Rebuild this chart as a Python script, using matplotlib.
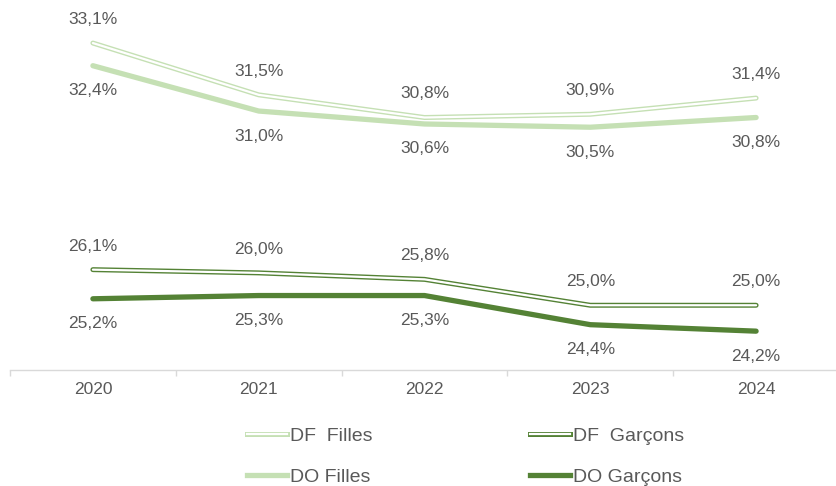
import matplotlib
matplotlib.use("Agg")
import matplotlib.pyplot as plt
from matplotlib.lines import Line2D
from matplotlib.legend_handler import HandlerTuple

plt.rcParams['font.family'] = ['Liberation Sans', 'DejaVu Sans']

# Data
years = ['2020', '2021', '2022', '2023', '2024']
df_filles = [33.1, 31.5, 30.8, 30.9, 31.4]
do_filles = [32.4, 31.0, 30.6, 30.5, 30.8]
df_garcons = [26.1, 26.0, 25.8, 25.0, 25.0]
do_garcons = [25.2, 25.3, 25.3, 24.4, 24.2]

light = '#c5e0b4'
dark = '#548235'
text_col = '#595959'

fig = plt.figure(figsize=(8.36, 4.86), dpi=100)
ax = fig.add_axes([10 / 836, 1 - 370 / 486, 829 / 836, 370 / 486])
x = list(range(len(years)))


def double_line(vals, color):
    ax.plot(x, vals, color=color, lw=3.6, solid_capstyle='round', solid_joinstyle='round', zorder=3)
    ax.plot(x, vals, color='white', lw=1.6, solid_capstyle='round', solid_joinstyle='round', zorder=4)


double_line(df_filles, light)
ax.plot(x, do_filles, color=light, lw=3.8, solid_capstyle='round', zorder=3)
double_line(df_garcons, dark)
ax.plot(x, do_garcons, color=dark, lw=3.8, solid_capstyle='round', zorder=3)


def fmt(v):
    return f"{v:.1f}%".replace('.', ',')


for xi, v in zip(x, df_filles):
    ax.annotate(fmt(v), (xi, v), xytext=(0, 17), textcoords='offset points',
                ha='center', va='center', fontsize=12.5, color=text_col)
for xi, v in zip(x, do_filles):
    ax.annotate(fmt(v), (xi, v), xytext=(0, -18), textcoords='offset points',
                ha='center', va='center', fontsize=12.5, color=text_col)
for xi, v in zip(x, df_garcons):
    ax.annotate(fmt(v), (xi, v), xytext=(0, 17), textcoords='offset points',
                ha='center', va='center', fontsize=12.5, color=text_col)
for xi, v in zip(x, do_garcons):
    ax.annotate(fmt(v), (xi, v), xytext=(0, -18), textcoords='offset points',
                ha='center', va='center', fontsize=12.5, color=text_col)

ax.set_xlim(-0.5, 4.5)
ax.set_ylim(23.0, 34.43)
ax.set_yticks([])
for s in ['top', 'right', 'left']:
    ax.spines[s].set_visible(False)
ax.spines['bottom'].set_color('#d9d9d9')
ax.spines['bottom'].set_linewidth(1.0)

ax.set_xticks(x)
ax.set_xticklabels(years, fontsize=12.5, color=text_col)
ax.tick_params(axis='x', length=0, pad=9)
ax.set_xticks([i - 0.5 for i in range(len(years) + 1)], minor=True)
ax.tick_params(axis='x', which='minor', length=4, color='#d9d9d9', width=1.0)

# Legend with double-line handles
h_df_f = (Line2D([], [], color=light, lw=3.6), Line2D([], [], color='white', lw=1.6))
h_do_f = Line2D([], [], color=light, lw=3.8)
h_df_g = (Line2D([], [], color=dark, lw=3.6), Line2D([], [], color='white', lw=1.6))
h_do_g = Line2D([], [], color=dark, lw=3.8)
leg = fig.legend([h_df_f, h_do_f, h_df_g, h_do_g],
                 ['DF  Filles', 'DO Filles', 'DF  Garçons', 'DO Garçons'],
                 handler_map={tuple: HandlerTuple(ndivide=1, pad=0)},
                 ncol=2, frameon=False, fontsize=14, labelcolor=text_col,
                 loc='center', bbox_to_anchor=(0.557, 0.06),
                 handlelength=2.06, handletextpad=0.15, columnspacing=8.1,
                 labelspacing=1.2)

fig.savefig('out.png', dpi=100)
